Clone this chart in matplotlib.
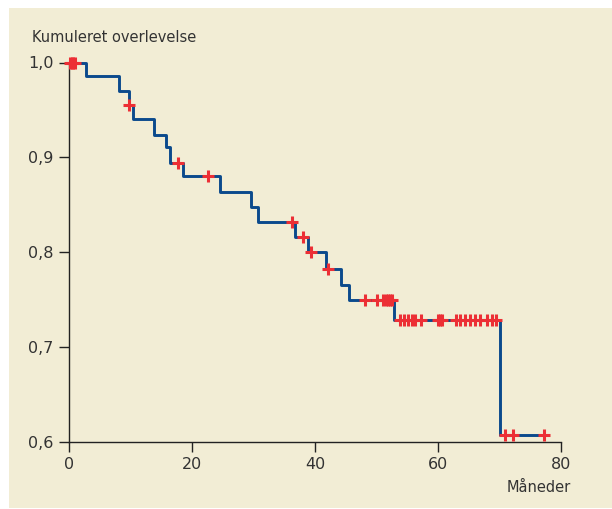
import matplotlib
matplotlib.use("Agg")
import matplotlib.pyplot as plt
from matplotlib.patches import Rectangle
from matplotlib.ticker import FixedLocator

# Kaplan-Meier steps: event times and survival after each event
event_times = [2.76, 8.13, 9.76, 10.46, 13.87, 15.72, 16.47, 18.54, 24.6, 29.54,
               30.78, 36.67, 38.94, 41.84, 44.28, 45.58, 52.89, 70.0]
survival = [0.986, 0.970, 0.955, 0.940, 0.924, 0.911, 0.894, 0.880, 0.863, 0.848,
            0.832, 0.816, 0.800, 0.782, 0.765, 0.750, 0.729, 0.607]
end_time = 77.2

# Censored observations (months)
censored = [0.2, 0.45, 0.7, 0.95, 9.8, 17.67, 22.68, 36.3, 38.1, 39.3, 42.06,
            48.2, 50.0, 51.1, 51.5, 51.8, 52.2, 52.6,
            53.8, 54.4, 55.2, 55.7, 56.3, 57.2, 60.0, 60.3, 60.6,
            63.0, 63.6, 64.4, 65.2, 66.0, 66.9, 67.9, 68.7, 69.5,
            70.9, 72.2, 77.2]

x_ticks = [0, 20, 40, 60, 80]
x_ticklabels = ["0", "20", "40", "60", "80"]
y_ticks = [0.6, 0.7, 0.8, 0.9, 1.0]
y_ticklabels = ["0,6", "0,7", "0,8", "0,9", "1,0"]

BLUE = "#0B4A8C"
RED = "#EC2F35"
BG = "#F2EDD5"
TXT = "#333333"

W, H = 612, 509
fig = plt.figure(figsize=(W / 100, H / 100), dpi=100, facecolor="white")

bg = fig.add_axes([9 / W, 1 / H, 1 - 9 / W, (508 - 8) / H], zorder=0)
bg.set_axis_off()
bg.add_patch(Rectangle((0, 0), 1, 1, transform=bg.transAxes,
                       facecolor=BG, edgecolor="none"))

ax = fig.add_axes([69 / W, 1 - 442 / H, (561 - 69) / W, (442 - 62.5) / H],
                  zorder=2)
ax.set_facecolor("none")

# build step function from data
xs = [0.0] + event_times + [end_time]
ys = [1.0] + survival + [survival[-1]]
ax.step(xs, ys, where="post", color=BLUE, lw=2.1, zorder=2, clip_on=False)


def surv_at(t):
    s = 1.0
    for et, sv in zip(event_times, survival):
        if et <= t:
            s = sv
    return s


cy = [surv_at(t) for t in censored]
ax.scatter(censored, cy, marker="+", s=70, linewidths=2.2, color=RED,
           zorder=3, clip_on=False)

ax.set_xlim(0, 80)
ax.set_ylim(0.6, 1.0)
ax.xaxis.set_major_locator(FixedLocator(x_ticks))
ax.set_xticklabels(x_ticklabels)
ax.yaxis.set_major_locator(FixedLocator(y_ticks))
ax.set_yticklabels(y_ticklabels)

for s in ["top", "right"]:
    ax.spines[s].set_visible(False)
for s in ["left", "bottom"]:
    ax.spines[s].set_linewidth(1.0)
    ax.spines[s].set_color("#222222")

ax.tick_params(axis="both", direction="out", length=7, width=1.0,
               color="#222222", labelsize=11.5, labelcolor=TXT, pad=4)

fig.text(32 / W, 1 - 37 / H, "Kumuleret overlevelse", fontsize=10.5,
         color=TXT, ha="left", va="center", zorder=5)
fig.text(571 / W, 1 - 487 / H, "Måneder", fontsize=10.5, color=TXT,
         ha="right", va="center", zorder=5)

fig.savefig("out.png", dpi=100, facecolor="white")
